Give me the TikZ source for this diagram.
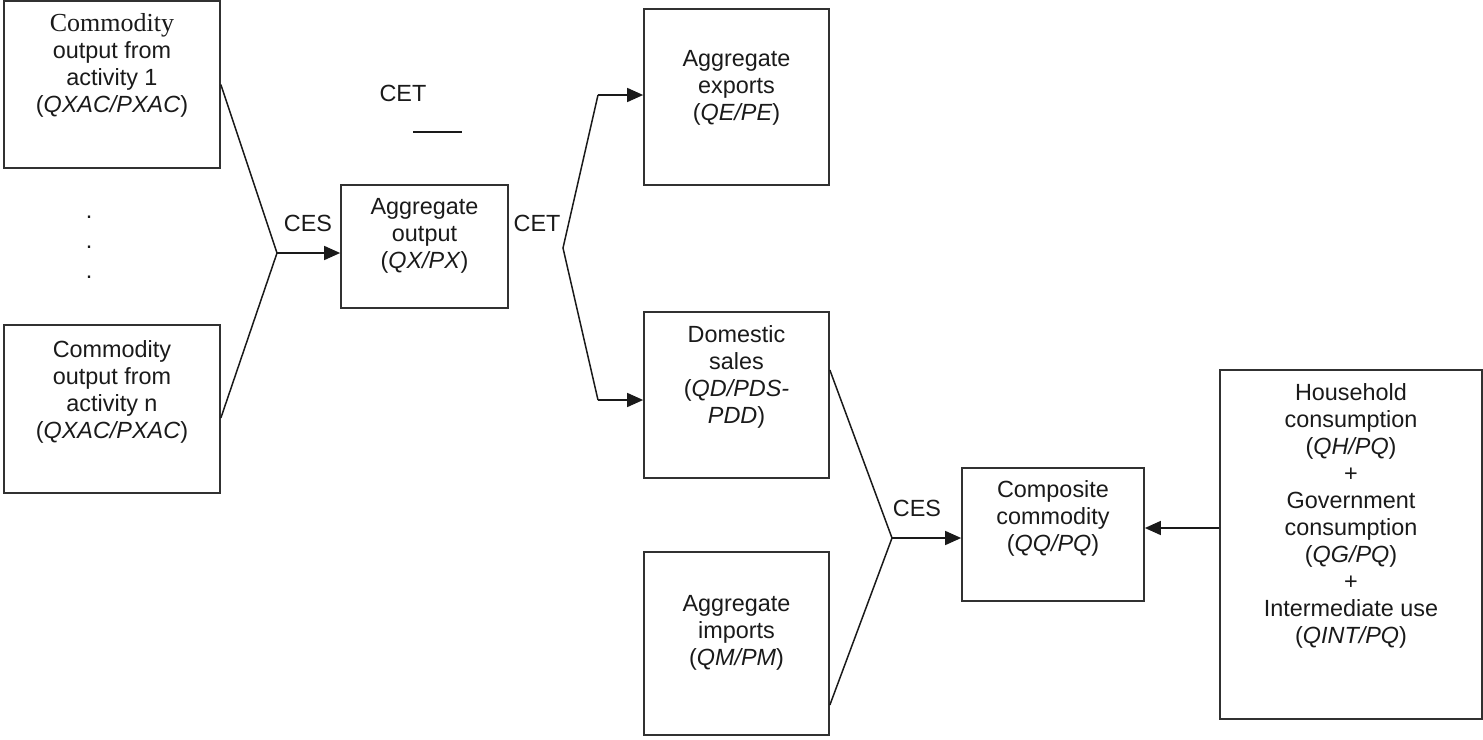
\documentclass[tikz,border=0pt]{standalone}
\usepackage{fontspec}
\setmainfont{Liberation Sans}
\newfontfamily\timesfont{Liberation Serif}
\usepackage{tikz}
\usetikzlibrary{positioning,arrows.meta,calc}
\definecolor{ink}{HTML}{1A1A1A}
\tikzset{
  >={Triangle[length=16pt,width=14pt]},
  every node/.style={font=\fontsize{23.4}{27}\selectfont},
  % --- nodes
  blk/.style = {draw=ink!90, line width=1.7pt, inner sep=0pt},
  txt/.style = {align=center, inner sep=0pt, text=ink},
  lbl/.style = {inner sep=0pt, text=ink},
  % --- edges
  ln/.style  = {line width=1.5pt, draw=ink},
  e/.style   = {ln, ->},
}
\begin{document}
\begin{tikzpicture}[x=1pt,y=-1pt]
  \useasboundingbox (0,0) rectangle (1483,739);

  % --- boxes
  \node[blk, minimum width=216pt, minimum height=167pt] (act1) at (112,84.5) {};
  \node[blk, minimum width=216pt, minimum height=168pt] (actn) at (112,409) {};
  \node[blk, minimum width=167pt, minimum height=123pt] (qx) at (424.5,246.5) {};
  \node[blk, minimum width=185pt, minimum height=176pt] (qe) at (736.5,97) {};
  \node[blk, minimum width=185pt, minimum height=166pt] (qd) at (736.5,395) {};
  \node[blk, minimum width=185pt, minimum height=183pt] (qm) at (736.5,643.5) {};
  \node[blk, minimum width=182pt, minimum height=133pt] (qq) at (1053,534.5) {};
  \node[blk, minimum width=262pt, minimum height=349pt] (dem) at (1351,544.5) {};

  % --- box texts
  \node[txt, below=13pt of act1.north] (act1t) {{\timesfont\fontsize{26}{27}\selectfont Commodity}\\output from\\activity 1\\(\textit{QXAC/PXAC})};
  \node[txt, below=16pt of actn.north] (actnt) {Commodity\\output from\\activity n\\(\textit{QXAC/PXAC})};
  \node[txt, below=14pt of qx.north] (qxt) {Aggregate\\output\\(\textit{QX/PX})};
  \node[txt, below=42pt of qe.north] (qet) {Aggregate\\exports\\(\textit{QE/PE})};
  \node[txt, below=14pt of qd.north] (qdt) {Domestic\\sales\\(\textit{QD/PDS-}\\\textit{PDD})};
  \node[txt, below=44pt of qm.north] (qmt) {Aggregate\\imports\\(\textit{QM/PM})};
  \node[txt, below=13pt of qq.north] (qqt) {Composite\\commodity\\(\textit{QQ/PQ})};
  \node[txt, below=14pt of dem.north] (demt) {Household\\consumption\\(\textit{QH/PQ})\\+\\Government\\consumption\\(\textit{QG/PQ})\\+\\Intermediate use\\(\textit{QINT/PQ})};

  \node[txt, font=\fontsize{23.4}{30}\selectfont] (dots) at (89,247) {.\\.\\.};

  % --- labels
  \node[lbl] (ces1) at (308,223) {CES};
  \node[lbl] (cet0) at (403,93) {CET};
  \node[lbl] (cet1) at (537,223) {CET};
  \node[lbl] (ces2) at (917,508) {CES};

  % --- junctions
  \coordinate (j1) at (277,253);
  \coordinate (j2) at (563,248);
  \coordinate (up) at (598,95);
  \coordinate (lo) at (598,400);
  \coordinate (j3) at (892,538);
  \coordinate (dm) at ([yshift=16.5pt]dem.west);
  \coordinate (s1) at (413,132);
  \coordinate (s2) at (462,132);

  % --- edges
  \draw[ln] (act1.east) -- (j1) -- ([yshift=-9pt]actn.east);
  \draw[e] (j1) -- (j1 -| qx.west);
  \draw[ln] (s1) -- (s2);
  \draw[ln] (up) -- (j2) -- (lo);
  \draw[e] (up) -- (up -| qe.west);
  \draw[e] (lo) -- (lo -| qd.west);
  \draw[ln] ([yshift=25pt]qd.east) -- (j3) -- ([yshift=-61.5pt]qm.east);
  \draw[e] (j3) -- (j3 -| qq.west);
  \draw[e] (dm) -- (dm -| qq.east);
\end{tikzpicture}
\end{document}
